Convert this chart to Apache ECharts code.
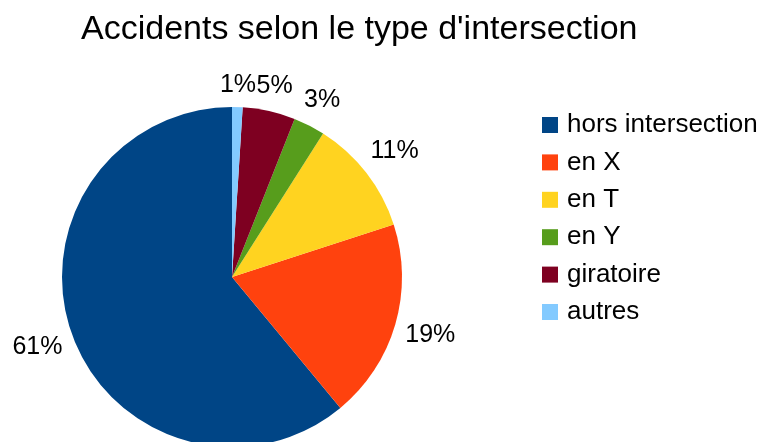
<!DOCTYPE html>
<html>
<head>
<meta charset="utf-8">
<script src="https://cdn.jsdelivr.net/npm/echarts@6/dist/echarts.min.js"></script>
<style>
  html, body { margin: 0; padding: 0; background: #fff; }
  #chart { width: 760px; height: 442px; }
</style>
</head>
<body>
<div id="chart"></div>
<script>
const categories = ['hors intersection', 'en X', 'en T', 'en Y', 'giratoire', 'autres']
const values = [61, 19, 11, 3, 5, 1]
const colors = ['#004586', '#ff420e', '#ffd320', '#579d1c', '#7e0021', '#83caff']

const chart = echarts.init(document.getElementById('chart'))

// place the label box just outside the anchor point, like LibreOffice does
function placeLabel(params) {
  const pts = params.labelLinePoints
  if (!pts) return {}
  const dx0 = pts[1][0] - pts[0][0]
  const dy0 = pts[1][1] - pts[0][1]
  const len = Math.sqrt(dx0 * dx0 + dy0 * dy0) || 1
  const dx = dx0 / len
  const dy = dy0 / len
  const w = params.labelRect.width
  const h = params.labelRect.height
  const off = Math.abs(dx) * w / 2 + Math.abs(dy) * h / 2
  return {
    x: pts[1][0] + dx * off,
    y: pts[1][1] + dy * off,
    align: 'center',
    verticalAlign: 'middle'
  }
}

chart.setOption({
  animation: false,
  color: colors,
  title: {
    text: "Accidents selon le type d'intersection",
    left: 76,
    top: 8,
    textStyle: {
      fontFamily: 'Liberation Sans',
      fontSize: 34,
      fontWeight: 'normal',
      color: '#000'
    }
  },
  legend: {
    orient: 'vertical',
    left: 537,
    top: 107,
    itemWidth: 16,
    itemHeight: 16,
    itemGap: 11.4,
    icon: 'rect',
    data: categories,
    textStyle: {
      fontFamily: 'Liberation Sans',
      fontSize: 26,
      color: '#000',
      padding: [0, 0, 0, 4]
    }
  },
  series: [{
    type: 'pie',
    center: [232, 277],
    radius: 170,
    startAngle: 90,
    clockwise: false,
    avoidLabelOverlap: false,
    data: categories.map((name, i) => ({ name: name, value: values[i] })),
    label: {
      show: true,
      position: 'outside',
      formatter: '{d}%',
      fontFamily: 'Liberation Sans',
      fontSize: 25,
      color: '#000'
    },
    labelLine: { show: false, length: 9, length2: 0 },
    labelLayout: placeLabel,
    emphasis: { disabled: true }
  }]
})
</script>
</body>
</html>
